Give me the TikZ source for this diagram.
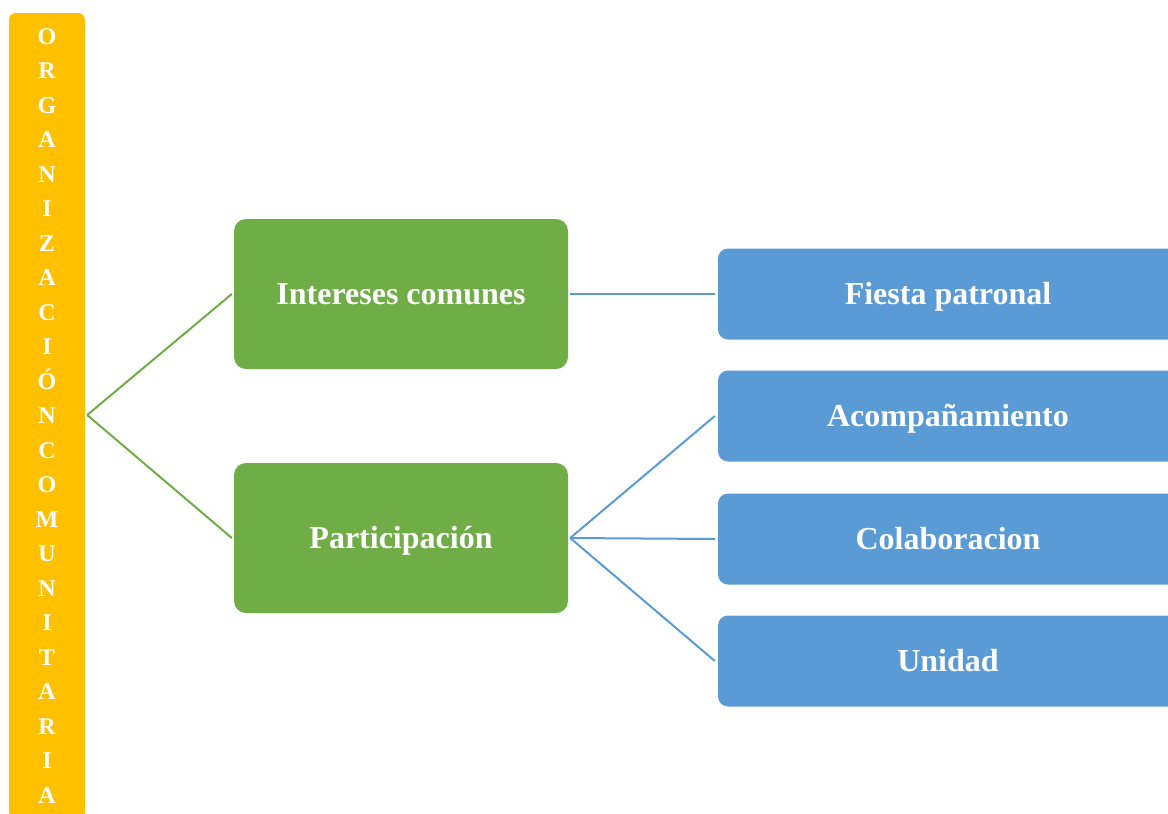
\documentclass[tikz,border=0pt]{standalone}
\usepackage{fontspec}
\setmainfont{Liberation Serif}
\definecolor{ybar}{HTML}{FFC000}
\definecolor{gbox}{HTML}{70AD47}
\definecolor{bbox}{HTML}{5B9BD5}
\tikzset{
  barbox/.style={fill=ybar, rounded corners=7pt, minimum width=76pt, minimum height=806pt, inner sep=0pt, text=white, font=\bfseries\fontsize{24}{34.5}\selectfont, align=center},
  midbox/.style={fill=gbox, rounded corners=12pt, minimum width=334pt, minimum height=150pt, inner sep=0pt, text=white, text height=21pt, text depth=0pt, font=\bfseries\fontsize{32}{38}\selectfont},
  leafbox/.style={fill=bbox, rounded corners=10pt, minimum width=460pt, minimum height=91pt, inner sep=0pt, text=white, text height=21pt, text depth=0pt, font=\bfseries\fontsize{32}{38}\selectfont},
  gline/.style={draw=gbox, line width=2pt},
  bline/.style={draw=bbox, line width=2pt}
}
\begin{document}
\begin{tikzpicture}[x=1pt,y=-1pt]
\useasboundingbox (0,0) rectangle (1168,814);
\clip (0,0) rectangle (1168,814);
\node[barbox] (org) at (47,416) {O\\R\\G\\A\\N\\I\\Z\\A\\C\\I\\Ó\\N\\C\\O\\M\\U\\N\\I\\T\\A\\R\\I\\A};
\node[midbox] (int) at (401,294) {Intereses comunes};
\node[midbox] (par) at (401,538) {Participación};
\node[leafbox] (fie) at (948,294) {Fiesta patronal};
\node[leafbox] (aco) at (948,416) {Acompañamiento};
\node[leafbox] (col) at (948,539) {Colaboracion};
\node[leafbox] (uni) at (948,661) {Unidad};
\draw[gline] ([xshift=2pt,yshift=1pt]org.east) -- ([xshift=-2pt]int.west);
\draw[gline] ([xshift=2pt,yshift=1pt]org.east) -- ([xshift=-2pt]par.west);
\draw[bline] ([xshift=2pt]int.east) -- ([xshift=-3pt]fie.west);
\draw[bline] ([xshift=2pt]par.east) -- ([xshift=-3pt]aco.west);
\draw[bline] ([xshift=2pt]par.east) -- ([xshift=-3pt]col.west);
\draw[bline] ([xshift=2pt]par.east) -- ([xshift=-3pt]uni.west);
\end{tikzpicture}
\end{document}
